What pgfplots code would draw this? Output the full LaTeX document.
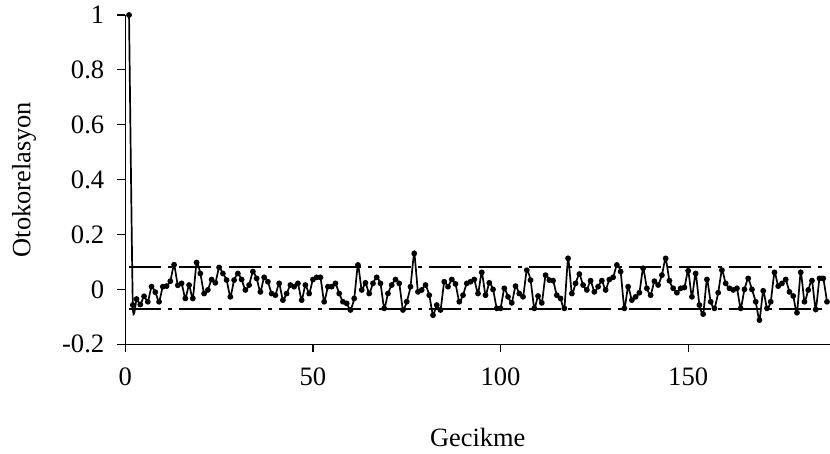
\documentclass[border=0pt]{standalone}
\usepackage{fontspec}
\setmainfont{Liberation Serif}
\usepackage{pgfplots}
\pgfplotsset{compat=1.18}
\usepackage{pgfplotstable}

% lag, autocorrelation
\pgfplotstableread{
lag acf
1 1
2 -0.057
3 -0.035
4 -0.055
5 -0.025
6 -0.045
7 0.01
8 -0.01
9 -0.045
10 0.01
11 0.012
12 0.03
13 0.09
14 0.015
15 0.022
16 -0.033
17 0.016
18 -0.033
19 0.098
20 0.058
21 -0.015
22 -0.002
23 0.036
24 0.024
25 0.08
26 0.058
27 0.034
28 -0.027
29 0.034
30 0.058
31 0.036
32 -0.002
33 0.016
34 0.065
35 0.04
36 -0.009
37 0.044
38 0.028
39 -0.015
40 -0.021
41 0.022
42 -0.039
43 -0.015
44 0.016
45 0.01
46 0.022
47 -0.039
48 0.016
49 -0.015
50 0.036
51 0.044
52 0.044
53 -0.045
54 0.01
55 0.01
56 0.022
57 -0.015
58 -0.045
59 -0.051
60 -0.075
61 -0.033
62 0.089
63 -0.002
64 0.024
65 -0.015
66 0.022
67 0.044
68 0.022
69 -0.069
70 -0.015
71 0.016
72 0.036
73 0.022
74 -0.075
75 -0.045
76 0.01
77 0.131
78 -0.009
79 -0.002
80 0.016
81 -0.021
82 -0.094
83 -0.057
84 -0.075
85 0.028
86 0.01
87 0.036
88 0.02
89 -0.045
90 -0.021
91 0.022
92 0.028
93 0.036
94 -0.015
95 0.062
96 -0.021
97 0.024
98 0.0
99 -0.069
100 -0.069
101 0.004
102 -0.027
103 -0.049
104 0.012
105 -0.015
106 -0.027
107 0.07
108 0.034
109 -0.069
110 -0.024
111 -0.049
112 0.052
113 0.034
114 0.032
115 -0.021
116 -0.033
117 -0.069
118 0.113
119 -0.015
120 0.022
121 0.056
122 0.016
123 -0.002
124 0.032
125 -0.009
126 0.01
127 0.032
128 -0.002
129 0.036
130 0.044
131 0.089
132 0.065
133 -0.069
134 0.01
135 -0.039
136 -0.027
137 -0.012
138 0.077
139 0.004
140 -0.021
141 0.03
142 0.016
143 0.052
144 0.113
145 0.032
146 0.004
147 -0.012
148 0.004
149 0.007
150 0.068
151 -0.027
152 0.058
153 -0.057
154 -0.09
155 0.036
156 -0.045
157 -0.069
158 -0.012
159 0.07
160 0.022
161 0.004
162 -0.002
163 0.004
164 -0.069
165 0.0
166 0.04
167 0.0
168 -0.045
169 -0.112
170 -0.005
171 -0.069
172 -0.045
173 0.062
174 0.012
175 0.022
176 0.036
177 -0.009
178 -0.024
179 -0.085
180 0.062
181 -0.045
182 -0.002
183 0.032
184 -0.073
185 0.04
186 0.04
187 -0.045
}\acftable

\begin{document}
\begin{tikzpicture}
\begin{axis}[
    at={(0,0)}, anchor=south west,
    scale only axis,
    width=352.35pt, height=164.65pt,
    xmin=0, xmax=187.8,
    ymin=-0.2, ymax=1,
    axis x line*=bottom,
    axis y line*=left,
    axis line style={line width=0.6pt},
    tick align=outside,
    major tick length=4pt,
    tick style={line width=0.6pt, black},
    xtick={0,50,100,150},
    xticklabels={0,50,100,150},
    ytick={-0.2,0,0.2,0.4,0.6,0.8,1},
    yticklabels={-0.2,0,0.2,0.4,0.6,0.8,1},
    every tick label/.append style={font=\fontsize{13.3}{16}\selectfont},
    xticklabel style={anchor=center, yshift=-12pt},
    yticklabel style={xshift=-3pt},
    label style={font=\fontsize{13.2}{16}\selectfont},
    xlabel={Gecikme},
    ylabel={Otokorelasyon},
    xlabel style={at={(axis description cs:0.5,-0.2815)}, anchor=center},
    ylabel style={at={(axis description cs:-0.1435,0.5)}, anchor=center},
    clip=false,
  ]
  \addplot[black, line width=1pt, dash pattern=on 16pt off 3.5pt on 2pt off 3.5pt]
    coordinates {(1,0.08) (187,0.08)};
  \addplot[black, line width=1pt, dash pattern=on 16pt off 3.5pt on 2pt off 3.5pt]
    coordinates {(1,-0.07) (187,-0.07)};
  \addplot[black, line width=0.85pt, smooth, tension=0.3,
    mark=*, mark size=1pt, mark options={solid, fill=black}]
    table[x=lag, y=acf] {\acftable};
\end{axis}
\pgfresetboundingbox
\path (-62.65pt,-54.85pt) rectangle (352.35pt,172.15pt);
\end{tikzpicture}
\end{document}
